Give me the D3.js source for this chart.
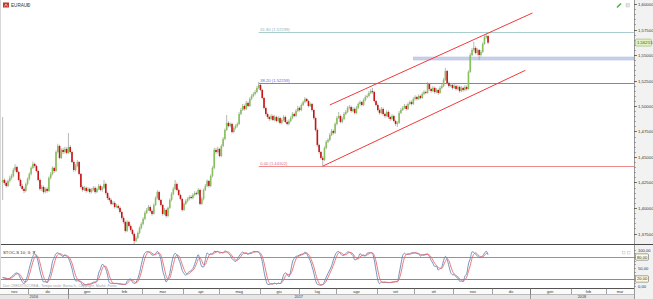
<!DOCTYPE html>
<html><head><meta charset="utf-8">
<script src="https://cdn.jsdelivr.net/npm/d3@7/dist/d3.min.js"></script>
<style>html,body{margin:0;padding:0;background:#fff;overflow:hidden}svg{display:block}text{font-family:"Liberation Sans",Arial,sans-serif}</style>
</head><body><svg id="c" width="653" height="299"></svg>
<script>
const symbol = "EURAUD";
const firstDay = [2016, 10, 10];
const totalSlots = 356;
const open = [
1.4250,1.4275,1.4246,1.4216,1.4265,1.4295,1.4314,1.4373,1.4402,1.4353,
1.4275,1.4216,1.4187,1.4167,1.4236,1.4285,1.4334,1.4393,1.4432,1.4412,
1.4363,1.4275,1.4187,1.4206,1.4157,1.4187,1.4167,1.4295,1.4334,1.4393,
1.4363,1.4549,1.4608,1.4491,1.4569,1.4549,1.4579,1.4540,1.4598,1.4549,
1.4451,1.4373,1.4412,1.4451,1.4334,1.4206,1.4177,1.4197,1.4167,1.4187,
1.4157,1.4177,1.4197,1.4157,1.4187,1.4216,1.4177,1.4197,1.4236,1.4147,
1.4098,1.4079,1.4040,1.4050,1.4010,1.4020,1.4001,1.3961,1.3903,1.3863,
1.3775,1.3863,1.3824,1.3785,1.3746,1.3677,1.3707,1.3756,1.3805,1.3844,
1.3893,1.3952,1.3981,1.4010,1.3971,1.3942,1.4030,1.4098,1.4157,1.4079,
1.4030,1.3942,1.3981,1.3922,1.4001,1.4079,1.4138,1.4187,1.4236,1.4177,
1.4128,1.4089,1.3981,1.4040,1.4069,1.4089,1.4108,1.4098,1.4128,1.4147,
1.4138,1.4177,1.4040,1.4089,1.4177,1.4216,1.4265,1.4216,1.4314,1.4393,
1.4569,1.4549,1.4579,1.4510,1.4608,1.4677,1.4765,1.4834,1.4804,1.4824,
1.4745,1.4785,1.4804,1.4824,1.4922,1.4961,1.5000,1.4971,1.5030,1.5000,
1.5069,1.5098,1.5118,1.5137,1.5177,1.5206,1.5157,1.5079,1.4981,1.4922,
1.4892,1.4873,1.4902,1.4863,1.4892,1.4853,1.4882,1.4834,1.4863,1.4892,
1.4843,1.4824,1.4853,1.4882,1.4922,1.4902,1.4951,1.4981,1.4961,1.5010,
1.5039,1.5069,1.5049,1.5000,1.5020,1.4961,1.4882,1.4765,1.4618,1.4549,
1.4491,1.4471,1.4589,1.4648,1.4667,1.4716,1.4755,1.4736,1.4824,1.4882,
1.4902,1.4843,1.4873,1.4922,1.4941,1.4981,1.4990,1.4951,1.4971,1.4932,
1.4981,1.5020,1.5039,1.5010,1.5059,1.5088,1.5098,1.5128,1.5147,1.5137,
1.5049,1.5010,1.4961,1.4932,1.4971,1.4922,1.4902,1.4941,1.4892,1.4873,
1.4902,1.4853,1.4824,1.4834,1.4932,1.4961,1.4981,1.5000,1.4971,1.5020,
1.5039,1.5020,1.5069,1.5088,1.5069,1.5098,1.5079,1.5118,1.5137,1.5128,
1.5216,1.5167,1.5147,1.5177,1.5137,1.5157,1.5128,1.5177,1.5196,1.5255,
1.5343,1.5226,1.5196,1.5206,1.5177,1.5196,1.5167,1.5187,1.5147,1.5177,
1.5157,1.5187,1.5167,1.5334,1.5500,1.5549,1.5569,1.5520,1.5549,1.5500,
1.5530,1.5608,1.5676,1.5686];
const high = [
1.4892,1.4290,1.4262,1.4280,1.4318,1.4335,1.4390,1.4430,1.4415,1.4365,
1.4290,1.4235,1.4205,1.4250,1.4300,1.4350,1.4410,1.4455,1.4445,1.4425,
1.4375,1.4290,1.4225,1.4220,1.4200,1.4205,1.4310,1.4352,1.4410,1.4405,
1.4565,1.4630,1.4620,1.4585,1.4590,1.4600,1.4595,1.4735,1.4615,1.4560,
1.4465,1.4430,1.4470,1.4460,1.4345,1.4220,1.4215,1.4210,1.4205,1.4200,
1.4195,1.4215,1.4210,1.4200,1.4235,1.4230,1.4215,1.4275,1.4250,1.4160,
1.4115,1.4095,1.4070,1.4065,1.4040,1.4035,1.4015,1.3975,1.3920,1.3875,
1.3880,1.3875,1.3840,1.3800,1.3760,1.3725,1.3770,1.3820,1.3860,1.3910,
1.3970,1.4000,1.4030,1.4025,1.3985,1.4045,1.4115,1.4175,1.4170,1.4090,
1.4040,1.4000,1.3995,1.4015,1.4095,1.4155,1.4205,1.4275,1.4250,1.4190,
1.4140,1.4100,1.4055,1.4085,1.4105,1.4125,1.4125,1.4145,1.4165,1.4160,
1.4195,1.4190,1.4105,1.4190,1.4235,1.4280,1.4275,1.4330,1.4410,1.4590,
1.4590,1.4600,1.4590,1.4625,1.4695,1.4780,1.4912,1.4850,1.4840,1.4835,
1.4800,1.4820,1.4840,1.4940,1.4980,1.5020,1.5015,1.5050,1.5045,1.5085,
1.5115,1.5135,1.5155,1.5195,1.5236,1.5220,1.5170,1.5090,1.4995,1.4935,
1.4905,1.4920,1.4915,1.4910,1.4905,1.4900,1.4895,1.4880,1.4910,1.4905,
1.4860,1.4870,1.4900,1.4940,1.4935,1.4970,1.5000,1.4995,1.5025,1.5055,
1.5088,1.5080,1.5060,1.5035,1.5030,1.4970,1.4895,1.4780,1.4630,1.4560,
1.4510,1.4605,1.4665,1.4685,1.4735,1.4775,1.4770,1.4840,1.4900,1.4941,
1.4915,1.4890,1.4940,1.4960,1.5000,1.5010,1.5005,1.4990,1.4985,1.5000,
1.5035,1.5055,1.5050,1.5075,1.5105,1.5115,1.5145,1.5165,1.5177,1.5150,
1.5060,1.5025,1.4975,1.4990,1.4985,1.4935,1.4960,1.4955,1.4905,1.4920,
1.4915,1.4865,1.4850,1.4950,1.4980,1.5000,1.5020,1.5015,1.5035,1.5055,
1.5055,1.5085,1.5105,1.5100,1.5115,1.5110,1.5135,1.5155,1.5150,1.5235,
1.5225,1.5180,1.5195,1.5190,1.5175,1.5170,1.5195,1.5215,1.5275,1.5373,
1.5355,1.5240,1.5225,1.5220,1.5215,1.5210,1.5205,1.5200,1.5195,1.5190,
1.5205,1.5200,1.5350,1.5520,1.5570,1.5628,1.5585,1.5565,1.5560,1.5550,
1.5625,1.5695,1.5706,1.5695];
const low = [
1.4079,1.4228,1.4200,1.4205,1.4250,1.4280,1.4300,1.4355,1.4340,1.4260,
1.4200,1.4170,1.4145,1.4155,1.4220,1.4270,1.4320,1.4380,1.4395,1.4350,
1.4260,1.4170,1.4168,1.4140,1.4145,1.4150,1.4160,1.4280,1.4320,1.4345,
1.4355,1.4535,1.4478,1.4480,1.4530,1.4535,1.4525,1.4530,1.4535,1.4440,
1.4355,1.4360,1.4400,1.4320,1.4190,1.4160,1.4165,1.4150,1.4155,1.4140,
1.4145,1.4165,1.4140,1.4145,1.4175,1.4165,1.4160,1.4185,1.4130,1.4080,
1.4060,1.4025,1.4030,1.3995,1.3998,1.3985,1.3945,1.3885,1.3845,1.3760,
1.3765,1.3810,1.3770,1.3730,1.3640,1.3665,1.3695,1.3745,1.3790,1.3830,
1.3880,1.3940,1.3970,1.3955,1.3925,1.3935,1.4020,1.4085,1.4065,1.4015,
1.3925,1.3930,1.3905,1.3910,1.3990,1.4065,1.4125,1.4175,1.4165,1.4115,
1.4075,1.3965,1.3970,1.4030,1.4055,1.4075,1.4085,1.4085,1.4115,1.4125,
1.4125,1.4025,1.4030,1.4075,1.4165,1.4205,1.4200,1.4205,1.4300,1.4380,
1.4530,1.4535,1.4495,1.4500,1.4595,1.4665,1.4755,1.4790,1.4790,1.4730,
1.4735,1.4770,1.4790,1.4815,1.4910,1.4950,1.4955,1.4960,1.4985,1.4990,
1.5055,1.5085,1.5105,1.5125,1.5165,1.5145,1.5065,1.4965,1.4905,1.4875,
1.4855,1.4860,1.4850,1.4850,1.4840,1.4840,1.4820,1.4820,1.4850,1.4830,
1.4810,1.4810,1.4840,1.4870,1.4890,1.4890,1.4940,1.4945,1.4950,1.5000,
1.5025,1.5035,1.4985,1.4990,1.4945,1.4865,1.4750,1.4600,1.4530,1.4475,
1.4410,1.4460,1.4575,1.4635,1.4655,1.4705,1.4720,1.4725,1.4810,1.4870,
1.4830,1.4830,1.4860,1.4910,1.4930,1.4965,1.4935,1.4940,1.4920,1.4920,
1.4970,1.5005,1.4995,1.5000,1.5045,1.5075,1.5085,1.5115,1.5120,1.5035,
1.4995,1.4945,1.4915,1.4920,1.4905,1.4885,1.4890,1.4875,1.4855,1.4860,
1.4840,1.4805,1.4795,1.4825,1.4920,1.4950,1.4970,1.4955,1.4960,1.5010,
1.5005,1.5010,1.5055,1.5055,1.5060,1.5065,1.5070,1.5105,1.5115,1.5120,
1.5150,1.5130,1.5135,1.5120,1.5125,1.5110,1.5120,1.5165,1.5185,1.5245,
1.5210,1.5180,1.5185,1.5160,1.5165,1.5150,1.5155,1.5130,1.5135,1.5140,
1.5145,1.5150,1.5160,1.5325,1.5490,1.5535,1.5505,1.5495,1.5451,1.5485,
1.5520,1.5600,1.5660,1.5605];
const close = [
1.4275,1.4246,1.4216,1.4265,1.4295,1.4314,1.4373,1.4402,1.4353,1.4275,
1.4216,1.4187,1.4167,1.4236,1.4285,1.4334,1.4393,1.4432,1.4412,1.4363,
1.4275,1.4187,1.4206,1.4157,1.4187,1.4167,1.4295,1.4334,1.4393,1.4363,
1.4549,1.4608,1.4491,1.4569,1.4549,1.4579,1.4540,1.4598,1.4549,1.4451,
1.4373,1.4412,1.4451,1.4334,1.4206,1.4177,1.4197,1.4167,1.4187,1.4157,
1.4177,1.4197,1.4157,1.4187,1.4216,1.4177,1.4197,1.4236,1.4147,1.4098,
1.4079,1.4040,1.4050,1.4010,1.4020,1.4001,1.3961,1.3903,1.3863,1.3775,
1.3863,1.3824,1.3785,1.3746,1.3677,1.3707,1.3756,1.3805,1.3844,1.3893,
1.3952,1.3981,1.4010,1.3971,1.3942,1.4030,1.4098,1.4157,1.4079,1.4030,
1.3942,1.3981,1.3922,1.4001,1.4079,1.4138,1.4187,1.4236,1.4177,1.4128,
1.4089,1.3981,1.4040,1.4069,1.4089,1.4108,1.4098,1.4128,1.4147,1.4138,
1.4177,1.4040,1.4089,1.4177,1.4216,1.4265,1.4216,1.4314,1.4393,1.4569,
1.4549,1.4579,1.4510,1.4608,1.4677,1.4765,1.4834,1.4804,1.4824,1.4745,
1.4785,1.4804,1.4824,1.4922,1.4961,1.5000,1.4971,1.5030,1.5000,1.5069,
1.5098,1.5118,1.5137,1.5177,1.5206,1.5157,1.5079,1.4981,1.4922,1.4892,
1.4873,1.4902,1.4863,1.4892,1.4853,1.4882,1.4834,1.4863,1.4892,1.4843,
1.4824,1.4853,1.4882,1.4922,1.4902,1.4951,1.4981,1.4961,1.5010,1.5039,
1.5069,1.5049,1.5000,1.5020,1.4961,1.4882,1.4765,1.4618,1.4549,1.4491,
1.4471,1.4589,1.4648,1.4667,1.4716,1.4755,1.4736,1.4824,1.4882,1.4902,
1.4843,1.4873,1.4922,1.4941,1.4981,1.4990,1.4951,1.4971,1.4932,1.4981,
1.5020,1.5039,1.5010,1.5059,1.5088,1.5098,1.5128,1.5147,1.5137,1.5049,
1.5010,1.4961,1.4932,1.4971,1.4922,1.4902,1.4941,1.4892,1.4873,1.4902,
1.4853,1.4824,1.4834,1.4932,1.4961,1.4981,1.5000,1.4971,1.5020,1.5039,
1.5020,1.5069,1.5088,1.5069,1.5098,1.5079,1.5118,1.5137,1.5128,1.5216,
1.5167,1.5147,1.5177,1.5137,1.5157,1.5128,1.5177,1.5196,1.5255,1.5343,
1.5226,1.5196,1.5206,1.5177,1.5196,1.5167,1.5187,1.5147,1.5177,1.5157,
1.5187,1.5167,1.5334,1.5500,1.5549,1.5569,1.5520,1.5549,1.5500,1.5530,
1.5608,1.5676,1.5686,1.56215];
const priceTicks = [1.375,1.4,1.425,1.45,1.475,1.5,1.525,1.55,1.575,1.6];
const lastPrice = 1.56215;
const fibNames = ["0.00","38.20","61.80"];
const fibValues = [1.44102,1.52259,1.57299];
const fibColors = ["#f08a8a","#7c7cf2","#a9cccc"];
const fibTextColors = ["#e06a6a","#6a6ae6","#8fb5b5"];
const fibStart = 144;
const channelUpper = [[184,1.5010],[298,1.5912]];
const channelLower = [[180,1.4410],[294,1.5350]];
const zoneStart = 231, zoneLow = 1.5451, zoneHigh = 1.5480;
const stochParams = [10,3,3];
const stochTicks = [0,50,100];
const stochBoxes = [80,20];
const monthNames = ["gen","feb","mar","apr","mag","giu","lug","ago","set","ott","nov","dic"];
const sourceText = "Dati CREDIT/ICCREA - Tempo reale: Borsa It., Copyright, Markit, Forex";

const svg = d3.select("#c");
const plotR = 634, mainBottom = 244, stochTop = 244, stochBottom = 288;
const fmt = v => d3.format(".5f")(v).replace(".", ",");
const x = d3.scaleLinear().domain([-1.5, totalSlots - 0.9]).range([0, plotR]);
const y = d3.scaleLinear().domain([1.375, 1.6]).range([233.5, 4]);
const ys = d3.scaleLinear().domain([0, 100]).range([286.3, 249.7]);

svg.append("rect").attr("width",653).attr("height",299).attr("fill","#fff");
const defs = svg.append("defs");
defs.append("clipPath").attr("id","cm").append("rect").attr("x",0).attr("y",0).attr("width",plotR).attr("height",mainBottom);
defs.append("clipPath").attr("id","cs").append("rect").attr("x",0).attr("y",stochTop).attr("width",plotR).attr("height",stochBottom-stochTop);

// dates (weekdays)
const dates = [];
{ const d = new Date(firstDay[0], firstDay[1], firstDay[2]);
  while (dates.length < totalSlots) { const w = d.getDay(); if (w !== 0 && w !== 6) dates.push(new Date(d)); d.setDate(d.getDate()+1); } }

const main = svg.append("g").attr("clip-path","url(#cm)");
// zone band
main.append("rect").attr("x", x(zoneStart)).attr("y", y(zoneHigh)).attr("width", plotR - x(zoneStart)).attr("height", y(zoneLow)-y(zoneHigh))
  .attr("fill","#c9d1ea").attr("stroke","#b4bde0").attr("stroke-width",0.6);
// fib lines
fibValues.forEach((v,k)=>{
  main.append("line").attr("x1",x(fibStart)).attr("x2",plotR).attr("y1",Math.round(y(v))+0.5).attr("y2",Math.round(y(v))+0.5)
    .attr("stroke",fibColors[k]).attr("stroke-width",1);
  main.append("text").attr("x",x(fibStart)+1.5).attr("y",Math.round(y(v))-0.6).attr("font-size",4.2).attr("fill",fibTextColors[k])
    .text(fibNames[k]+" ("+d3.format(".5f")(v)+")");
});
// candles
const idx = d3.range(close.length);
main.append("g").selectAll("line").data(idx).join("line")
  .attr("x1",i=>x(i)).attr("x2",i=>x(i)).attr("y1",i=>y(high[i])).attr("y2",i=>y(low[i]))
  .attr("stroke","#9a9a9a").attr("stroke-width",0.7);
main.append("g").selectAll("rect").data(idx).join("rect")
  .attr("x",i=>x(i)-0.8).attr("width",1.6)
  .attr("y",i=>y(Math.max(open[i],close[i])))
  .attr("height",i=>Math.max(0.8, Math.abs(y(open[i])-y(close[i]))))
  .attr("fill",i=>close[i]>=open[i]?"#86c25a":"#c81414");
// channel
[channelUpper, channelLower].forEach(c=>{
  main.append("line").attr("x1",x(c[0][0])).attr("y1",y(c[0][1])).attr("x2",x(c[1][0])).attr("y2",y(c[1][1]))
    .attr("stroke","#f03a3a").attr("stroke-width",1);
});

// header
svg.append("rect").attr("x",3).attr("y",2.5).attr("width",6).attr("height",5).attr("fill","#c0392b");
svg.append("path").attr("d","M4.5,6.5 L6,4 L7.5,6.5").attr("fill","none").attr("stroke","#fff").attr("stroke-width",0.6);
svg.append("text").attr("x",11).attr("y",6.8).attr("font-size",4.6).attr("fill","#333").text(symbol);
svg.append("path").attr("d","M27,4.5 L29,4.5 L28,6 Z").attr("fill","#555");
svg.append("path").attr("d","M617,7.5 L621,3.5").attr("stroke","#4caf50").attr("stroke-width",1.6);
svg.append("rect").attr("x",626).attr("y",3.5).attr("width",3.5).attr("height",3.5).attr("fill","#e2e2e2").attr("stroke","#c8c8c8").attr("stroke-width",0.5);

// stochastic
const [kP, s1, s2] = stochParams;
const raw = close.map((c,i)=>{ const s=Math.max(0,i-kP+1); const hh=d3.max(high.slice(s,i+1)), ll=d3.min(low.slice(s,i+1)); return hh>ll?100*(c-ll)/(hh-ll):50; });
const sma = (a,p)=>a.map((v,i)=>d3.mean(a.slice(Math.max(0,i-p+1),i+1)));
const stK = sma(raw,s1), stD = sma(stK,s2);
const sg = svg.append("g").attr("clip-path","url(#cs)");
sg.append("line").attr("x1",0).attr("x2",plotR).attr("y1",Math.round(ys(80))+0.5).attr("y2",Math.round(ys(80))+0.5).attr("stroke","#e87272").attr("stroke-width",1);
sg.append("line").attr("x1",0).attr("x2",plotR).attr("y1",Math.round(ys(20))+0.5).attr("y2",Math.round(ys(20))+0.5).attr("stroke","#8a8a8a").attr("stroke-width",1);
const ln = d3.line().x((d,i)=>x(i)).y(d=>ys(d)).curve(d3.curveMonotoneX);
sg.append("path").attr("d",ln(stK)).attr("fill","none").attr("stroke","#6684b4").attr("stroke-width",0.9);
sg.append("path").attr("d",ln(stD)).attr("fill","none").attr("stroke","#ea6a6e").attr("stroke-width",0.9);
svg.append("text").attr("x",3).attr("y",254).attr("font-size",4.3).attr("fill","#333").text("STOC-S "+stochParams.join("; "));
svg.append("path").attr("d","M33.5,251.5 L35.5,251.5 L34.5,253 Z").attr("fill","#555");
svg.append("text").attr("x",3).attr("y",286.5).attr("font-size",3.6).attr("fill","#a0a0a0").text(sourceText);
[622.5,627.5].forEach(px=>svg.append("rect").attr("x",px).attr("y",251.5).attr("width",2.5).attr("height",2.5).attr("fill","none").attr("stroke","#c4c4c4").attr("stroke-width",0.5));

// panel borders
svg.append("line").attr("x1",0).attr("x2",653).attr("y1",mainBottom+0.5).attr("y2",mainBottom+0.5).attr("stroke","#4a4a4a").attr("stroke-width",1);
svg.append("line").attr("x1",0.5).attr("x2",0.5).attr("y1",0).attr("y2",stochBottom).attr("stroke","#d8d8d8");

// right axis column
const ax = svg.append("g");
ax.append("rect").attr("x",plotR).attr("y",0).attr("width",653-plotR).attr("height",299).attr("fill","#f2f2f2");
ax.append("line").attr("x1",plotR+0.5).attr("x2",plotR+0.5).attr("y1",0).attr("y2",299).attr("stroke","#9a9a9a");
d3.range(1.375,1.6001,0.005).forEach(v=>{ const yy=Math.round(y(v))+0.5; if(yy<1) return;
  ax.append("line").attr("x1",plotR).attr("x2",plotR+2).attr("y1",yy).attr("y2",yy).attr("stroke","#777").attr("stroke-width",0.6); });
priceTicks.forEach(v=>{ const yy=Math.round(y(v))+0.5;
  ax.append("line").attr("x1",plotR).attr("x2",plotR+3).attr("y1",yy).attr("y2",yy).attr("stroke","#555").attr("stroke-width",0.8);
  ax.append("text").attr("x",plotR+4).attr("y",yy+1.5).attr("font-size",4.3).attr("fill","#333").text(fmt(v)); });
ax.append("line").attr("x1",plotR).attr("x2",653).attr("y1",mainBottom+0.5).attr("y2",mainBottom+0.5).attr("stroke","#4a4a4a");
{ const yy=y(lastPrice);
  ax.append("rect").attr("x",plotR+1.5).attr("y",yy-3.5).attr("width",16).attr("height",7).attr("rx",1).attr("fill","#e3f1c4").attr("stroke","#93b566").attr("stroke-width",0.6);
  ax.append("text").attr("x",plotR+3).attr("y",yy+1.6).attr("font-size",4.3).attr("fill","#3c5a1e").text(fmt(lastPrice)); }
d3.range(0,101,10).forEach(v=>{ const yy=Math.round(ys(v))+0.5;
  ax.append("line").attr("x1",plotR).attr("x2",plotR+2).attr("y1",yy).attr("y2",yy).attr("stroke","#777").attr("stroke-width",0.6); });
stochTicks.forEach(v=>{ const yy=Math.round(ys(v))+0.5;
  ax.append("text").attr("x",plotR+4).attr("y",yy+1.5).attr("font-size",4.1).attr("fill","#333").text(d3.format(".2f")(v).replace(".",",")); });
stochBoxes.forEach(v=>{ const yy=ys(v);
  ax.append("rect").attr("x",plotR+1.5).attr("y",yy-3.2).attr("width",13).attr("height",6.4).attr("rx",1).attr("fill","#fbfbe8").attr("stroke","#6b6b5a").attr("stroke-width",0.6);
  ax.append("text").attr("x",plotR+3).attr("y",yy+1.5).attr("font-size",4.1).attr("fill","#333").text(d3.format(".2f")(v).replace(".",",")); });

// time axis
const months = [], years = [];
dates.forEach((d,i)=>{
  const mk=d.getFullYear()*12+d.getMonth();
  if(!months.length||months[months.length-1].key!==mk) months.push({key:mk,start:i,end:i,m:d.getMonth()}); else months[months.length-1].end=i;
  const yk=d.getFullYear();
  if(!years.length||years[years.length-1].key!==yk) years.push({key:yk,start:i,end:i}); else years[years.length-1].end=i;
});
const sx0 = s => s.start===0?0:x(s.start-0.5);
const sx1 = s => Math.min(plotR, x(s.end+0.5));
const ta = svg.append("g");
ta.append("rect").attr("x",0).attr("y",stochBottom).attr("width",plotR).attr("height",6).attr("fill","#fafafa");
ta.append("rect").attr("x",0).attr("y",stochBottom+6).attr("width",plotR).attr("height",5).attr("fill","#e7e7e7");
ta.append("line").attr("x1",0).attr("x2",plotR).attr("y1",stochBottom+0.5).attr("y2",stochBottom+0.5).attr("stroke","#555");
ta.append("line").attr("x1",0).attr("x2",plotR).attr("y1",stochBottom+6.5).attr("y2",stochBottom+6.5).attr("stroke","#9a9a9a").attr("stroke-width",0.6);
months.forEach(s=>{
  if(s.start>0) ta.append("line").attr("x1",Math.round(sx0(s))+0.5).attr("x2",Math.round(sx0(s))+0.5).attr("y1",stochBottom).attr("y2",stochBottom+6).attr("stroke","#666").attr("stroke-width",0.6);
  ta.append("text").attr("x",(sx0(s)+sx1(s))/2).attr("y",stochBottom+5).attr("text-anchor","middle").attr("font-size",3.8).attr("fill","#333").text(monthNames[s.m]);
});
years.forEach(s=>{
  if(s.start>0) ta.append("line").attr("x1",Math.round(sx0(s))+0.5).attr("x2",Math.round(sx0(s))+0.5).attr("y1",stochBottom).attr("y2",299).attr("stroke","#666").attr("stroke-width",0.6);
  ta.append("text").attr("x",(sx0(s)+sx1(s))/2).attr("y",stochBottom+10.3).attr("text-anchor","middle").attr("font-size",3.8).attr("fill","#333").text(s.key);
});
</script></body></html>
